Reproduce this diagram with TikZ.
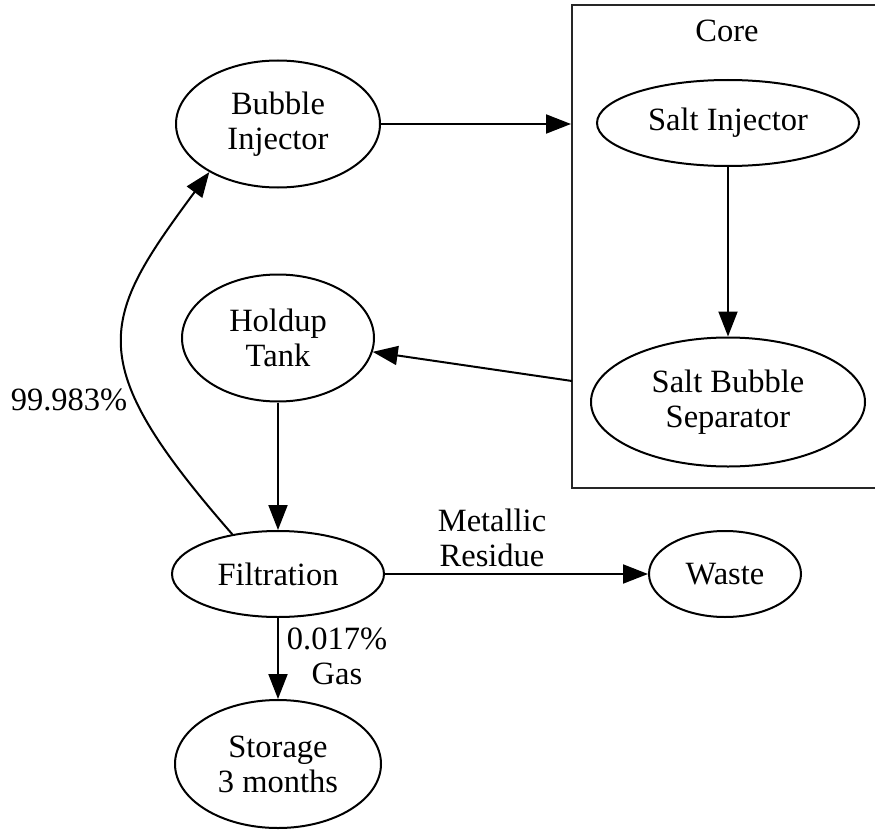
\documentclass[tikz,border=0pt]{standalone}
\usepackage{fontspec}
\setmainfont{Liberation Serif}
\usetikzlibrary{shapes.geometric,arrows.meta}
\begin{document}
\begin{tikzpicture}[x=1pt,y=-1pt,
  every node/.style={font=\fontsize{32.5}{35}\selectfont, align=center, inner sep=0pt},
  stage/.style={draw, ellipse, line width=2pt},
  flow/.style={line width=2pt, -{Triangle[length=25pt,width=19pt]}},
  group/.style={draw=black!85, line width=2pt, rectangle}]
\useasboundingbox (0,0) rectangle (875,832);

% Core cluster (its right side runs past the page edge)
\node[group, minimum width=308pt, minimum height=483pt] (core) at (726,246.5) {};
\node (coretitle) at (727,31) {Core};

% stages
\node[stage, minimum width=204pt, minimum height=127pt] (bub) at (278,124) {Bubble\\Injector};
\node[stage, minimum width=262pt, minimum height=86pt] (salt) at (728,123) {Salt Injector};
\node[stage, minimum width=274pt, minimum height=129pt] (sep) at (728,402) {Salt Bubble\\Separator};
\node[stage, minimum width=192pt, minimum height=127pt] (hold) at (278,338) {Holdup\\Tank};
\node[stage, minimum width=212pt, minimum height=86pt] (filt) at (278,574) {Filtration};
\node[stage, minimum width=152pt, minimum height=86pt] (waste) at (725,574) {Waste};
\node[stage, minimum width=206pt, minimum height=128pt] (store) at (278,764) {Storage\\3 months};

% connectors
\coordinate (coreout) at (572,381);
\draw[flow] (bub.east) -- (bub.east -| core.west);
\draw[flow] (salt) -- (sep);
\draw[flow] (coreout) -- (hold);
\draw[flow] (hold) -- (filt);
\draw[flow] (filt.139.5) .. controls (80,360) and (100,320) .. (bub.215.3);
\draw[flow] (filt) -- (waste);
\draw[flow] (filt) -- (store);

% edge labels
\node (lres) at (492,538) {Metallic\\Residue};
\node (lgas) at (337,656) {0.017\%\\Gas};
\node (lret) at (69,400) {99.983\%};
\end{tikzpicture}
\end{document}
